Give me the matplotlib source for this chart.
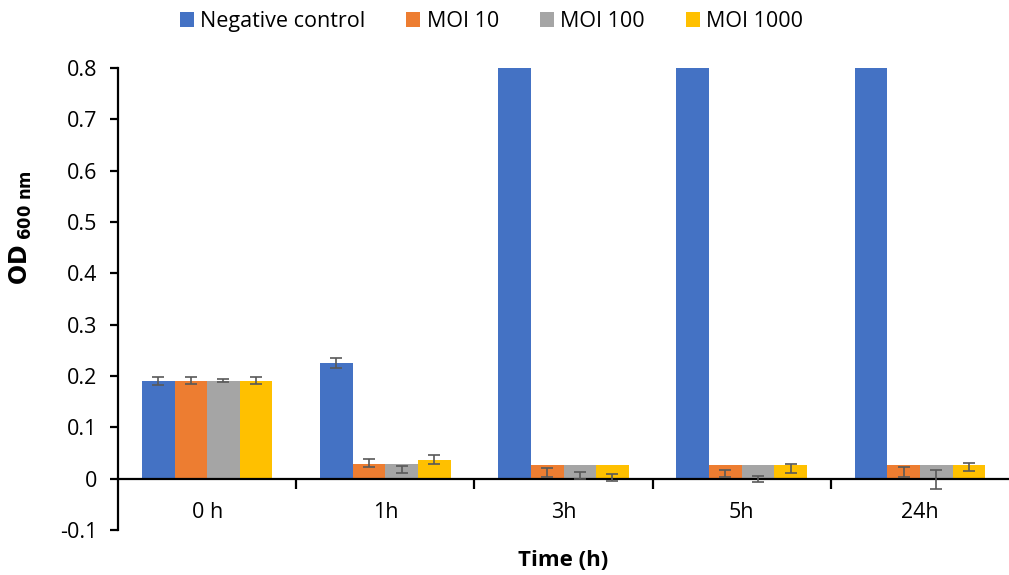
import matplotlib
matplotlib.use("Agg")
import matplotlib.pyplot as plt
import numpy as np
from matplotlib.ticker import FixedLocator

plt.rcParams['font.family'] = ['Open Sans', 'DejaVu Sans']

categories = ["0 h", "1h", "3h", "5h", "24h"]
series_names = ["Negative control", "MOI 10", "MOI 100", "MOI 1000"]
colors = ["#4472C4", "#ED7D31", "#A5A5A5", "#FFC000"]

neg_control = [0.191, 0.225, 1.2, 1.2, 1.2]
moi_10 = [0.191, 0.028, 0.027, 0.027, 0.027]
moi_100 = [0.191, 0.028, 0.027, 0.027, 0.027]
moi_1000 = [0.191, 0.037, 0.027, 0.027, 0.027]

# error bar centres and half-widths
neg_err_center = [0.191, 0.225, 1.2, 1.2, 1.2]
neg_err = [0.008, 0.0095, 0.0, 0.0, 0.0]
moi_10_err_center = [0.191, 0.030, 0.0127, 0.011, 0.013]
moi_10_err = [0.0065, 0.008, 0.0088, 0.007, 0.0095]
moi_100_err_center = [0.191, 0.0175, 0.007, 0.0, -0.001]
moi_100_err = [0.003, 0.007, 0.0065, 0.006, 0.019]
moi_1000_err_center = [0.191, 0.0376, 0.0025, 0.020, 0.023]
moi_1000_err = [0.0065, 0.009, 0.0065, 0.008, 0.0085]

yticks = [-0.1, 0.0, 0.1, 0.2, 0.3, 0.4, 0.5, 0.6, 0.7, 0.8]
ytick_labels = ["-0.1", "0", "0.1", "0.2", "0.3", "0.4", "0.5", "0.6", "0.7", "0.8"]

values = [neg_control, moi_10, moi_100, moi_1000]
centers = [neg_err_center, moi_10_err_center, moi_100_err_center, moi_1000_err_center]
errs = [neg_err, moi_10_err, moi_100_err, moi_1000_err]

fig = plt.figure(figsize=(10.09, 5.75), dpi=100)
ax = fig.add_axes([0.117, 0.078, 0.883, 0.804])

x = np.arange(len(categories))
bw = 0.183
for i, (vals, c, e, col, name) in enumerate(zip(values, centers, errs, colors, series_names)):
    pos = x + (i - 1.5) * bw
    ax.bar(pos, vals, width=bw, color=col, label=name, zorder=2)
    ax.errorbar(pos, c, yerr=e, fmt='none', ecolor='#595959', elinewidth=1.2,
                capsize=4.5, capthick=1.2, zorder=3)

ax.set_ylim(-0.1, 0.8)
ax.set_xlim(-0.5, 4.5)
ax.set_yticks(yticks)
ax.set_yticklabels(ytick_labels)

ax.spines['top'].set_visible(False)
ax.spines['right'].set_visible(False)
ax.spines['bottom'].set_position(('data', 0))
for s in ['left', 'bottom']:
    ax.spines[s].set_linewidth(1.6)
    ax.spines[s].set_color('black')

ax.set_xticks(x)
ax.set_xticklabels(categories)
ax.xaxis.set_minor_locator(FixedLocator([0.5, 1.5, 2.5, 3.5]))
ax.tick_params(axis='x', which='major', length=0, pad=17, labelsize=15.5)
ax.tick_params(axis='x', which='minor', length=7, width=1.6, direction='out')
ax.tick_params(axis='y', length=6, width=1.6, labelsize=15.5, pad=9)

ax.set_ylabel(r"$\mathbf{OD}_{\ \mathbf{600\ nm}}$", fontsize=17)
ax.yaxis.set_label_coords(-0.094, 0.655)
ax.set_xlabel("Time (h)", fontsize=16, fontweight='bold')
ax.xaxis.set_label_coords(0.5, -0.066)
ax.xaxis.label.set_va('center')

ax.legend(loc='upper center', bbox_to_anchor=(0.419, 1.165), ncol=4, frameon=False,
          fontsize=15.5, handlelength=0.65, handleheight=0.65, handletextpad=0.3,
          columnspacing=1.9)

fig.savefig("out.png", dpi=100)
